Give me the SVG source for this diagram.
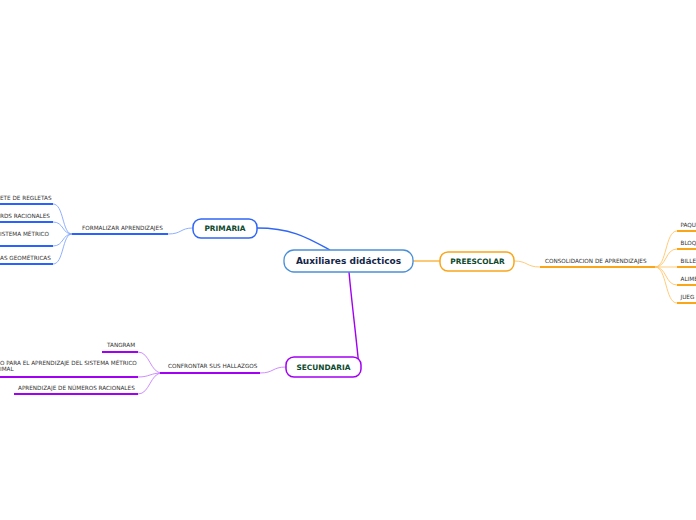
<svg xmlns="http://www.w3.org/2000/svg" width="696" height="520" viewBox="0 0 696 520">
<style>
.lbl{font-family:"DejaVu Sans",Verdana,sans-serif;font-size:5.7px;fill:#333333}
.node{font-family:"DejaVu Sans",Verdana,sans-serif;font-weight:bold;font-size:7.4px;fill:#0d4a2e;text-anchor:middle}
.main{font-family:"DejaVu Sans",Verdana,sans-serif;font-weight:bold;font-size:9px;fill:#142648;text-anchor:middle}
.cb{fill:none;stroke:#82a6ff;stroke-width:0.9}
.co{fill:none;stroke:#ffc56b;stroke-width:0.9}
.cp{fill:none;stroke:#c880ff;stroke-width:0.9}
.ub{stroke:#2962ff;stroke-width:2}
.uo{stroke:#f9a61a;stroke-width:2}
.up{stroke:#a100f2;stroke-width:2}
</style>
<rect width="696" height="520" fill="#ffffff"/>
<g id="connectors">
<path d="M257,228 C292,228 308,238 330,250" fill="none" stroke="#2f66f5" stroke-width="1.4"/>
<path d="M413,261 L440,261" fill="none" stroke="#f9a61a" stroke-width="1.2"/>
<path d="M349,272 C352,305 356,335 359,367" fill="none" stroke="#a100f2" stroke-width="1.4"/>
<path class="cb" d="M168,234 C182,234 180,228 193,228"/>
<path class="cb" d="M72,234 C62,234 64,204 53,204"/>
<path class="cb" d="M72,234 C62,234 64,222 53,222"/>
<path class="cb" d="M72,234 C62,234 64,246 53,246"/>
<path class="cb" d="M72,234 C62,234 64,264 53,264"/>
<path class="co" d="M514,261 C528,261 526,267 540,267"/>
<path class="co" d="M655,267 C667,267 665,231 677,231"/>
<path class="co" d="M655,267 C667,267 665,249 677,249"/>
<path class="co" d="M655,267 L677,267"/>
<path class="co" d="M655,267 C667,267 665,285 677,285"/>
<path class="co" d="M655,267 C667,267 665,303 677,303"/>
<path class="cp" d="M260,373 C274,373 272,367 286,367"/>
<path class="cp" d="M162,373 C150,373 150,352 138,352"/>
<path class="cp" d="M162,373 C150,373 150,377 138,377"/>
<path class="cp" d="M162,373 C150,373 150,394 138,394"/>
</g>
<g id="central">
<rect x="284" y="250" width="129" height="22" rx="10" fill="#ffffff" stroke="#4a8fd6" stroke-width="1.3"/>
<text class="main" x="348.5" y="264.2">Auxiliares didácticos</text>
</g>
<g id="primaria">
<rect x="193" y="219" width="64" height="19" rx="8" fill="#ffffff" stroke="#2f66f5" stroke-width="1.5"/>
<text class="node" x="225" y="231.2">PRIMARIA</text>
</g>
<g id="formalizar">
<text class="lbl" x="82" y="229.8">FORMALIZAR APRENDIZAJES</text>
<line class="ub" x1="72" y1="234" x2="168" y2="234"/>
</g>
<g id="p-leaf1">
<text class="lbl" x="0" y="199.8">ETE DE REGLETAS</text>
<line class="ub" x1="0" y1="204" x2="53" y2="204"/>
</g>
<g id="p-leaf2">
<text class="lbl" x="0" y="217.8">RDS RACIONALES</text>
<line class="ub" x1="0" y1="222" x2="53" y2="222"/>
</g>
<g id="p-leaf3">
<text class="lbl" x="0" y="235.8">ISTEMA MÉTRICO</text>
<line class="ub" x1="0" y1="246" x2="53" y2="246"/>
</g>
<g id="p-leaf4">
<text class="lbl" x="0" y="259.8">AS GEOMÉTRICAS</text>
<line class="ub" x1="0" y1="264" x2="53" y2="264"/>
</g>
<g id="preescolar">
<rect x="440" y="252" width="74" height="19" rx="8" fill="#ffffff" stroke="#f9a61a" stroke-width="1.5"/>
<text class="node" x="477.5" y="264.2">PREESCOLAR</text>
</g>
<g id="consolidacion">
<text class="lbl" x="545" y="262.8">CONSOLIDACION DE APRENDIZAJES</text>
<line class="uo" x1="540" y1="267" x2="655" y2="267"/>
</g>
<g id="o-leaf1"><text class="lbl" x="680.5" y="227">PAQU</text><line class="uo" x1="677" y1="231" x2="696" y2="231"/></g>
<g id="o-leaf2"><text class="lbl" x="680.5" y="245">BLOQ</text><line class="uo" x1="677" y1="249" x2="696" y2="249"/></g>
<g id="o-leaf3"><text class="lbl" x="680.5" y="263">BILLE</text><line class="uo" x1="677" y1="267" x2="696" y2="267"/></g>
<g id="o-leaf4"><text class="lbl" x="680.5" y="281">ALIME</text><line class="uo" x1="677" y1="285" x2="696" y2="285"/></g>
<g id="o-leaf5"><text class="lbl" x="680.5" y="299">JUEG</text><line class="uo" x1="677" y1="303" x2="696" y2="303"/></g>
<g id="secundaria">
<rect x="286" y="357" width="75" height="20" rx="8" fill="#ffffff" stroke="#a100f2" stroke-width="1.5"/>
<text class="node" x="323.5" y="369.8">SECUNDARIA</text>
</g>
<g id="confrontar">
<text class="lbl" x="168" y="367.8">CONFRONTAR SUS HALLAZGOS</text>
<line class="up" x1="160" y1="373" x2="260" y2="373"/>
</g>
<g id="s-leaf1">
<text class="lbl" x="107" y="347">TANGRAM</text>
<line class="up" x1="102" y1="352" x2="138" y2="352"/>
</g>
<g id="s-leaf2">
<text class="lbl" x="0" y="364.8">O PARA EL APRENDIZAJE DEL SISTEMA MÉTRICO</text>
<text class="lbl" x="0" y="371.2">IMAL</text>
<line class="up" x1="0" y1="377" x2="138" y2="377"/>
</g>
<g id="s-leaf3">
<text class="lbl" x="18" y="389.8">APRENDIZAJE DE NÚMEROS RACIONALES</text>
<line class="up" x1="14" y1="394" x2="138" y2="394"/>
</g>
</svg>
